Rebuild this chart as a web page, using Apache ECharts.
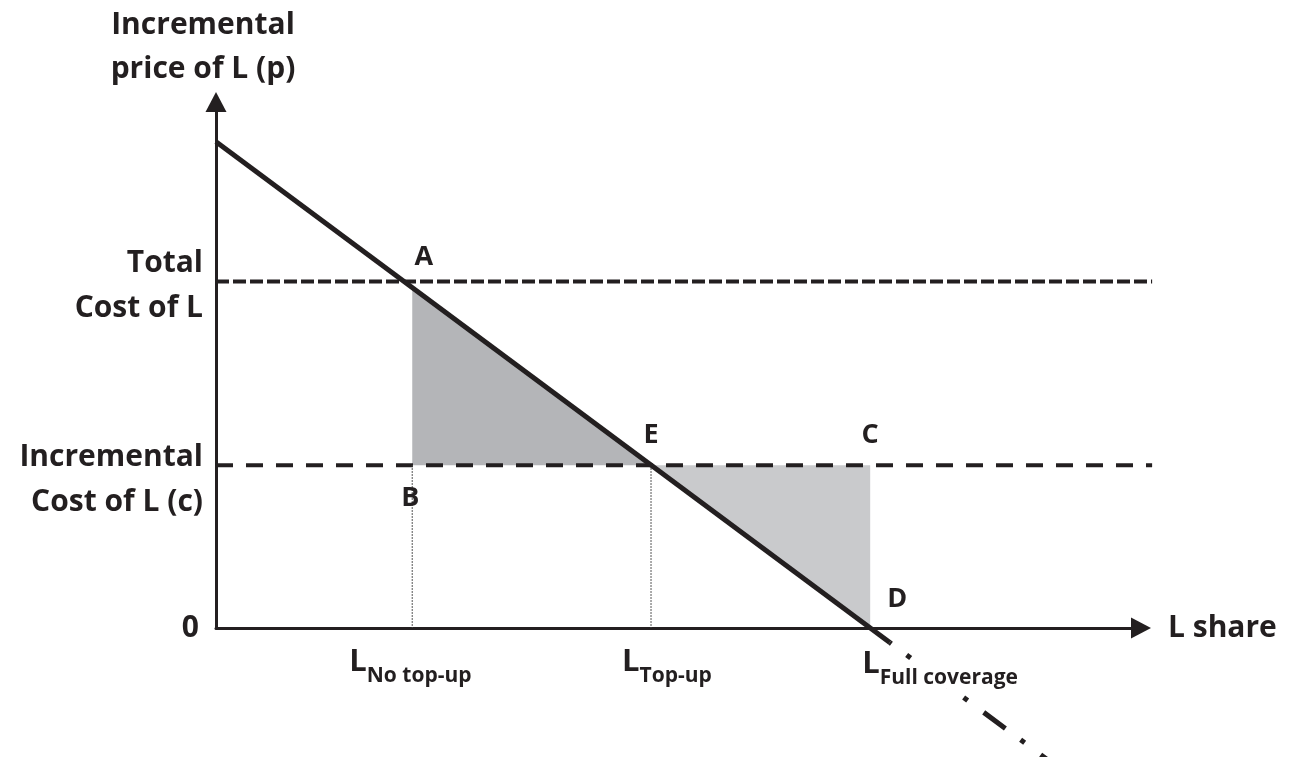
<!DOCTYPE html>
<html>
<head>
<meta charset="utf-8">
<title>Incremental price of L</title>
<script src="https://cdn.jsdelivr.net/npm/echarts@6/dist/echarts.min.js"></script>
<style>
  html, body { margin: 0; padding: 0; background: #fff; }
  #chart { width: 1293px; height: 757px; }
</style>
</head>
<body>
<div id="chart"></div>
<script>
// values: x = L share, y = price (demand p = 10 - x)
var demandSolid = [[0, 10], [10.3, -0.3]];
var demandExtension = [[10.3, -0.3], [13.3, -3.3]];
var totalCost = 7.13;
var incrementalCost = 3.35;
var guideEnd = 14.31;
var shareNoTopUp = 3;
var shareTopUp = 6.65;
var shareFull = 10;

var areaLoss = [[3, 7], [6.65, 3.35], [3, 3.35]];
var areaGain = [[6.65, 3.35], [10, 3.35], [10, 0]];

var pointNames = ['A', 'B', 'E', 'C', 'D'];
var pointCoords = [[2.87, 7.13], [3, 3.35], [6.65, 3.35], [10, 3.35], [10, 0]];

var costLabels = ['Total\nCost of L', 'Incremental\nCost of L (c)'];
var costValues = [totalCost, incrementalCost];

var shareSubscripts = ['No top-up', 'Top-up', 'Full coverage'];
var shareValues = [shareNoTopUp, shareTopUp, shareFull];

// label placement (pixels), kept apart from the data
var pointOffsets = [[20, -24], [-2, 33], [0, -30], [0, -30], [27, -29]];
var costOffsets = [[0, 5], [0, 15]];
var shareOffsets = [[-63, 48], [-29, 48], [-8, 50]];

var ink = '#231f20';
var font = '"Open Sans", "DejaVu Sans", sans-serif';

var chart = echarts.init(document.getElementById('chart'));

// filled triangle drawn through the axes
function polygonSeries(poly, color) {
    return {
        type: 'custom',
        silent: true,
        z: 1,
        data: poly,
        renderItem: function (params, api) {
            if (params.dataIndex !== 0) return;
            var pts = poly.map(function (p) { return api.coord(p); });
            return { type: 'polygon', shape: { points: pts }, style: { fill: color } };
        }
    };
}

// straight segment, not clipped by the grid
function segmentSeries(from, to, style, z) {
    return {
        type: 'custom',
        silent: true,
        z: z || 3,
        data: [from, to],
        renderItem: function (params, api) {
            if (params.dataIndex !== 0) return;
            var a = api.coord(from), b = api.coord(to);
            return {
                type: 'line',
                shape: { x1: a[0], y1: a[1], x2: b[0], y2: b[1] },
                style: style
            };
        }
    };
}

var labelBase = { fontFamily: font, fontWeight: 'bold', color: ink };

var option = {
    animation: false,
    backgroundColor: '#fff',
    textStyle: { fontFamily: font },
    grid: { left: 216, top: 102, right: 152, bottom: 129 },
    xAxis: {
        type: 'value',
        min: 0,
        max: 14.14,
        name: 'L share',
        nameLocation: 'end',
        nameGap: 27,
        nameTextStyle: { fontFamily: font, fontSize: 30, fontWeight: 'bold', color: ink, verticalAlign: 'middle', padding: [0, 0, 8, 0] },
        axisLine: { lineStyle: { color: ink, width: 3 }, symbol: ['none', 'triangle'], symbolSize: [21, 20] },
        axisTick: { show: false },
        axisLabel: { show: false },
        splitLine: { show: false }
    },
    yAxis: {
        type: 'value',
        min: 0,
        max: 10.82,
        interval: 1,
        name: 'Incremental\nprice of L (p)',
        nameLocation: 'end',
        nameGap: 11,
        nameTextStyle: { fontFamily: font, fontSize: 30, fontWeight: 'bold', color: ink, lineHeight: 44, align: 'center', padding: [0, 26, 0, 0] },
        axisLine: { lineStyle: { color: ink, width: 3 }, symbol: ['none', 'triangle'], symbolSize: [21, 20] },
        axisTick: { show: false },
        splitLine: { show: false },
        axisLabel: {
            margin: 17,
            fontFamily: font,
            fontSize: 30,
            fontWeight: 'bold',
            color: ink,
            padding: [0, 0, 12, 0],
            formatter: function (v) { return v === 0 ? '0' : ''; }
        }
    },
    series: [
        polygonSeries(areaLoss, '#b4b5b8'),
        polygonSeries(areaGain, '#c9cacc'),
        segmentSeries([0, totalCost], [guideEnd, totalCost], { stroke: ink, lineWidth: 4, lineDash: [13, 4], lineCap: 'butt' }),
        segmentSeries([0, incrementalCost], [guideEnd, incrementalCost], { stroke: ink, lineWidth: 4, lineDash: [17, 13], lineCap: 'butt' }),
        segmentSeries([shareNoTopUp, incrementalCost], [shareNoTopUp, 0], { stroke: '#444', lineWidth: 1.2, lineDash: [1.5, 1.5] }),
        segmentSeries([shareTopUp, incrementalCost], [shareTopUp, 0], { stroke: '#444', lineWidth: 1.2, lineDash: [1.5, 1.5] }),
        {
            type: 'line',
            data: demandSolid,
            symbol: 'none',
            silent: true,
            clip: false,
            z: 4,
            lineStyle: { color: ink, width: 5, cap: 'butt' }
        },
        {
            type: 'line',
            data: demandExtension,
            symbol: 'none',
            silent: true,
            clip: false,
            z: 4,
            lineStyle: { color: ink, width: 5, cap: 'butt', type: [27, 19, 5, 20], dashOffset: 25 }
        },
        {
            // point letters
            type: 'scatter',
            symbolSize: 0,
            silent: true,
            clip: false,
            z: 10,
            itemStyle: { opacity: 1 },
            data: pointNames.map(function (n, i) {
                return { name: n, value: pointCoords[i], label: { offset: pointOffsets[i] } };
            }),
            label: Object.assign({
                show: true,
                position: 'inside',
                formatter: '{b}',
                fontSize: 27
            }, labelBase)
        },
        {
            // cost labels left of the price axis
            type: 'scatter',
            symbolSize: 0,
            silent: true,
            clip: false,
            z: 10,
            itemStyle: { opacity: 1 },
            data: costLabels.map(function (n, i) {
                return { name: n, value: [0, costValues[i]], label: { offset: costOffsets[i] } };
            }),
            label: Object.assign({
                show: true,
                position: 'left',
                distance: 13,
                align: 'right',
                formatter: '{b}',
                fontSize: 30,
                lineHeight: 45
            }, labelBase)
        },
        {
            // share labels under the axis
            type: 'scatter',
            symbolSize: 0,
            silent: true,
            clip: false,
            z: 10,
            itemStyle: { opacity: 1 },
            data: shareSubscripts.map(function (n, i) {
                return { name: n, value: [shareValues[i], 0], label: { offset: shareOffsets[i] } };
            }),
            label: {
                show: true,
                position: 'right',
                distance: 0,
                formatter: function (p) { return '{L|L}{s|' + p.name + '}'; },
                rich: {
                    L: { fontFamily: font, fontSize: 31, fontWeight: 'bold', color: ink, padding: [0, 0, 28, 0] },
                    s: { fontFamily: font, fontSize: 21, fontWeight: 'bold', color: ink, backgroundColor: '#fff' }
                }
            }
        }
    ]
};

chart.setOption(option);
</script>
</body>
</html>
